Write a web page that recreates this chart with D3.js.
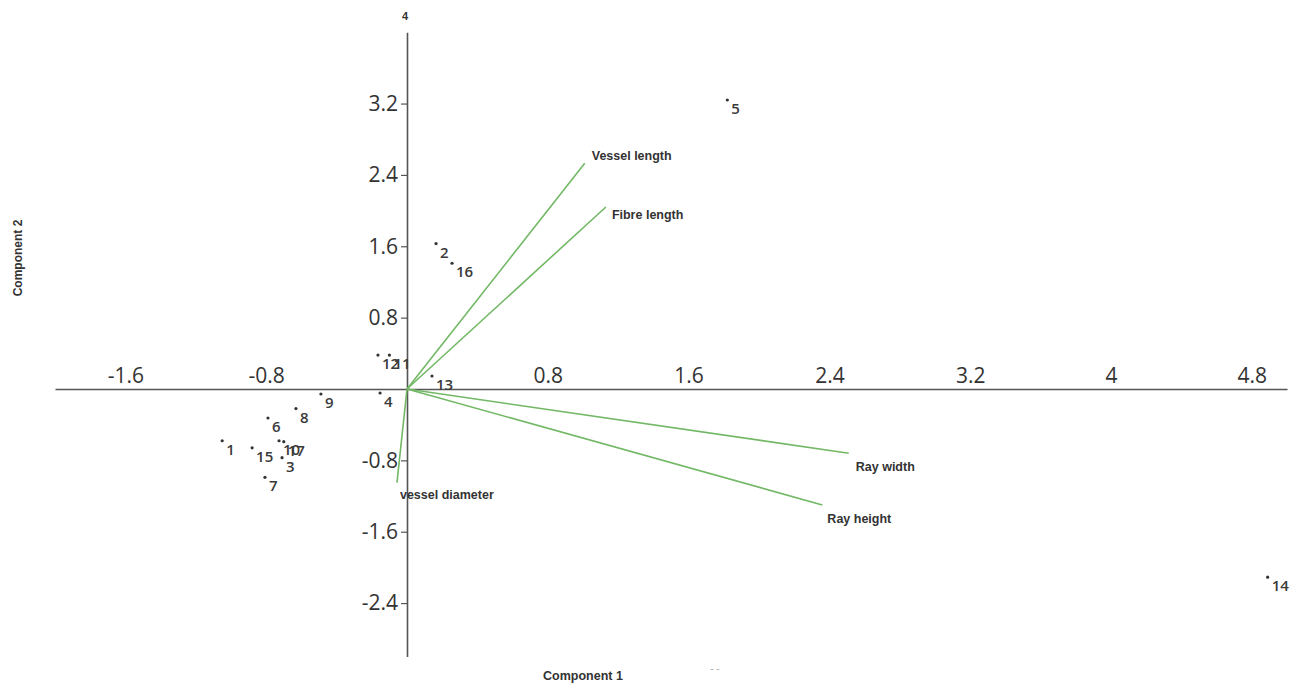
<!DOCTYPE html>
<html>
<head>
<meta charset="utf-8">
<script src="https://cdn.jsdelivr.net/npm/d3@7"></script>
<style>
  html, body { margin: 0; padding: 0; background: #fff; }
  svg { display: block; }
</style>
</head>
<body>
<script>
// ---- data ----
const pointLabels = ["1","2","3","4","5","6","7","8","9","10","11","12","13","14","15","16","17"];
const pointX = [-1.05, 0.165, -0.71, -0.153, 1.82, -0.79, -0.807, -0.631, -0.489, -0.727, -0.10, -0.165, 0.142, 4.89, -0.88, 0.256, -0.70];
const pointY = [-0.58, 1.63, -0.77, -0.045, 3.24, -0.325, -0.99, -0.22, -0.056, -0.58, 0.38, 0.38, 0.146, -2.11, -0.66, 1.41, -0.59];

const variableNames = ["Vessel length", "Fibre length", "Ray width", "Ray height", "vessel diameter"];
const loadingX = [1.01, 1.13, 2.51, 2.36, -0.057];
const loadingY = [2.53, 2.04, -0.72, -1.30, -1.05];

const xTicks = [-1.6, -0.8, 0.8, 1.6, 2.4, 3.2, 4, 4.8];
const yTicks = [-2.4, -1.6, -0.8, 0.8, 1.6, 2.4, 3.2];
const xDomain = [-2, 5];
const yDomain = [-3, 4];

// label placement (styling only)
const varLabelOffsets = [[7, -3], [6, 12], [7, 18], [5, 18], [3, 16]];

// ---- drawing ----
const W = 1298, H = 684;
const svg = d3.select("body").append("svg").attr("width", W).attr("height", H);

const x = d3.scaleLinear().domain(xDomain).range([55, 1287]);
const y = d3.scaleLinear().domain(yDomain).range([656.6, 32.2]);

const axisColor = "#555";
const tickFont = "'Open Sans', 'Liberation Sans', sans-serif";
const fmt = d => String(d);

// X axis (labels above line)
const gx = svg.append("g")
  .attr("transform", `translate(0,${y(0)})`)
  .call(d3.axisTop(x).tickValues(xTicks).tickFormat(fmt).tickSizeInner(0).tickSizeOuter(0).tickPadding(6));
gx.select(".domain").attr("stroke", axisColor).attr("stroke-width", 1.6);
gx.selectAll("text").attr("font-family", tickFont).attr("font-size", 21).attr("fill", "#333");

// Y axis
const gy = svg.append("g")
  .attr("transform", `translate(${x(0)},0)`)
  .call(d3.axisLeft(y).tickValues(yTicks).tickFormat(fmt).tickSizeInner(6).tickSizeOuter(0).tickPadding(3));
gy.select(".domain").attr("stroke", axisColor).attr("stroke-width", 1.6);
gy.selectAll(".tick line").attr("stroke", axisColor).attr("stroke-width", 1.2);
gy.selectAll("text").attr("font-family", tickFont).attr("font-size", 21).attr("fill", "#333");

// top "4" label
svg.append("text")
  .attr("x", x(0) - 2).attr("y", y(4) - 12)
  .attr("text-anchor", "middle")
  .attr("font-family", "Arial, 'Liberation Sans', sans-serif")
  .attr("font-weight", "bold").attr("font-size", 11).attr("fill", "#333")
  .text(fmt(yDomain[1]));

// loading vectors
const vecs = variableNames.map((n, i) => ({ n, x: loadingX[i], y: loadingY[i], o: varLabelOffsets[i] }));
svg.append("g").selectAll("line").data(vecs).join("line")
  .attr("x1", x(0)).attr("y1", y(0))
  .attr("x2", d => x(d.x)).attr("y2", d => y(d.y))
  .attr("stroke", "#72b865").attr("stroke-width", 1.6);

svg.append("g").selectAll("text").data(vecs).join("text")
  .attr("x", d => x(d.x) + d.o[0]).attr("y", d => y(d.y) + d.o[1])
  .attr("font-family", "Arial, 'Liberation Sans', sans-serif")
  .attr("font-weight", "bold").attr("font-size", 12.5).attr("fill", "#333")
  .text(d => d.n);

// points
const pts = pointLabels.map((l, i) => ({ l, x: pointX[i], y: pointY[i] }));
svg.append("g").selectAll("circle").data(pts).join("circle")
  .attr("cx", d => x(d.x)).attr("cy", d => y(d.y)).attr("r", 1.6)
  .attr("fill", "#333");
svg.append("g").selectAll("text").data(pts).join("text")
  .attr("x", d => x(d.x) + 4).attr("y", d => y(d.y) + 14)
  .attr("font-family", "'Open Sans', 'Liberation Sans', sans-serif")
  .attr("font-size", 15).attr("font-weight", 600).attr("fill", "#3a3a3a")
  .text(d => d.l);

// axis titles
svg.append("text")
  .attr("x", 583).attr("y", 680)
  .attr("text-anchor", "middle")
  .attr("font-family", "Arial, 'Liberation Sans', sans-serif")
  .attr("font-weight", "bold").attr("font-size", 12.5).attr("fill", "#333")
  .text("Component 1");
svg.append("text")
  .attr("transform", "translate(22,258) rotate(-90)")
  .attr("text-anchor", "middle")
  .attr("font-family", "Arial, 'Liberation Sans', sans-serif")
  .attr("font-weight", "bold").attr("font-size", 12).attr("fill", "#333")
  .text("Component 2");
svg.append("text")
  .attr("x", 715).attr("y", 672)
  .attr("text-anchor", "middle")
  .attr("font-family", "Arial, 'Liberation Sans', sans-serif")
  .attr("font-size", 10).attr("fill", "#aaa")
  .text("- -");
</script>
</body>
</html>
